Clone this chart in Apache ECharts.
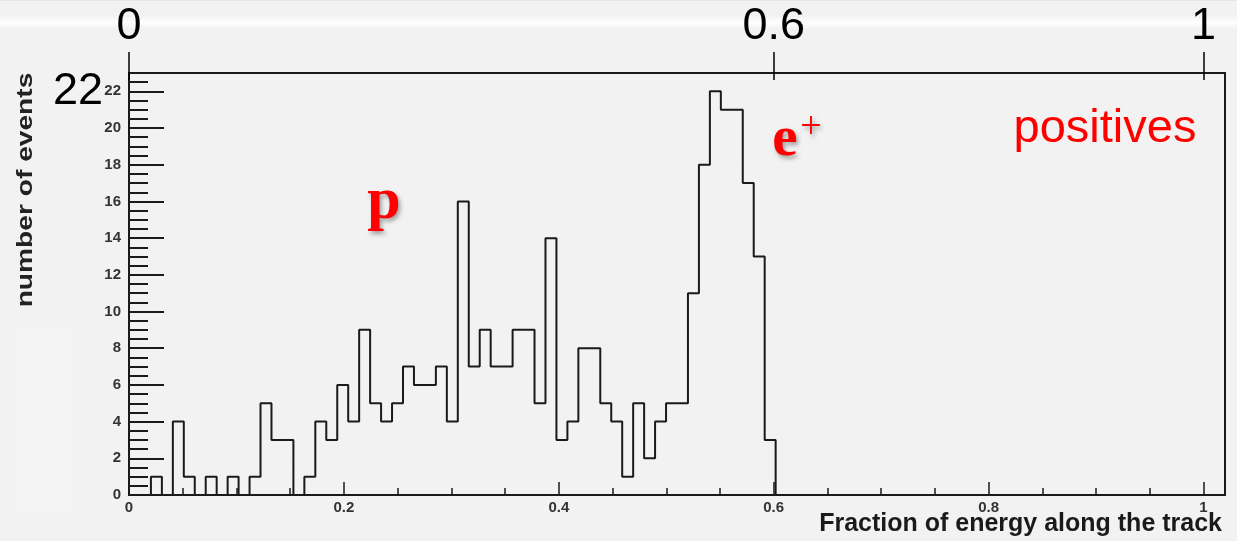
<!DOCTYPE html>
<html>
<head>
<meta charset="utf-8">
<title>Fraction of energy along the track — positives</title>
<script src="https://cdn.jsdelivr.net/npm/echarts@6/dist/echarts.min.js"></script>
<style>
  html, body { margin: 0; padding: 0; background: #f2f2f2; }
  #chart { width: 1237px; height: 541px; }
</style>
</head>
<body>
<div id="chart"></div>
<script>
// Histogram binning: 100 equal bins over [BIN_LO, BIN_HI]
const BIN_LO = 0;
const BIN_HI = 1.02;

// Entries per bin (number of events)
const counts = [
  0, 0, 1, 0, 4, 1, 0, 1, 0, 1,
  0, 1, 5, 3, 3, 0, 1, 4, 3, 6,
  4, 9, 5, 4, 5, 7, 6, 6, 7, 4,
  16, 7, 9, 7, 7, 9, 9, 5, 14, 3,
  4, 8, 8, 5, 4, 1, 5, 2, 4, 5,
  5, 11, 18, 22, 21, 21, 17, 13, 3, 0,
  0, 0, 0, 0, 0, 0, 0, 0, 0, 0,
  0, 0, 0, 0, 0, 0, 0, 0, 0, 0,
  0, 0, 0, 0, 0, 0, 0, 0, 0, 0,
  0, 0, 0, 0, 0, 0, 0, 0, 0, 0
];

// Axis ticks and labels
const xMajorTicks = [0, 0.2, 0.4, 0.6, 0.8, 1];
const xMinorTicks = [0.05, 0.1, 0.15, 0.25, 0.3, 0.35, 0.45, 0.5, 0.55, 0.65, 0.7, 0.75, 0.85, 0.9, 0.95];
const yMajorTicks = [0, 2, 4, 6, 8, 10, 12, 14, 16, 18, 20, 22];
const yMinorTicks = [0.5, 1, 1.5, 2.5, 3, 3.5, 4.5, 5, 5.5, 6.5, 7, 7.5, 8.5, 9, 9.5, 10.5, 11, 11.5,
                     12.5, 13, 13.5, 14.5, 15, 15.5, 16.5, 17, 17.5, 18.5, 19, 19.5, 20.5, 21, 21.5, 22.5, 23];
const Y_MAX = 23;

// Highlighted reference values drawn on the overlay scales
const overlayXTicks = [0, 0.6, 1];
const overlayYTicks = [22];

const xTitle = 'Fraction of energy along the track';
const yTitle = 'number of events';
const sampleLabel = 'positives';

// Step outline points at the bin edges
const binWidth = (BIN_HI - BIN_LO) / counts.length;
const outline = counts.map((c, i) => [BIN_LO + i * binWidth, c]);
outline.push([BIN_HI, counts[counts.length - 1]]);

const SANS = '"Liberation Sans", Arial, Helvetica, sans-serif';
const SERIF = '"Liberation Serif", "Times New Roman", serif';
const INK = '#1a1a1a';
const RED = '#ff0000';
const redShadow = {
  textShadowColor: 'rgba(0,0,0,0.35)',
  textShadowBlur: 4,
  textShadowOffsetX: 2,
  textShadowOffsetY: 3
};

const chart = echarts.init(document.getElementById('chart'), null, { renderer: 'canvas' });

chart.setOption({
  backgroundColor: '#f2f2f2',
  animation: false,
  grid: [
    { // histogram frame
      left: 129, right: 12, top: 73, bottom: 46,
      show: true,
      borderColor: INK,
      borderWidth: 2,
      backgroundColor: 'transparent'
    },
    { // strip holding the overlay scale, straddling the top of the frame
      left: 129, right: 12, top: 52, height: 28,
      show: false
    }
  ],
  xAxis: [
    { // main scale: labels and major ticks
      type: 'value', gridIndex: 0, min: BIN_LO, max: BIN_HI, position: 'bottom',
      splitLine: { show: false },
      axisLine: { show: true, lineStyle: { color: INK, width: 2 } },
      axisTick: { show: true, inside: true, length: 13, customValues: xMajorTicks,
                  lineStyle: { color: INK, width: 1.5 } },
      axisLabel: { show: true, customValues: xMajorTicks, margin: 5,
                   fontFamily: SANS, fontSize: 15, fontWeight: 'bold', color: '#333' }
    },
    { // minor ticks
      type: 'value', gridIndex: 0, min: BIN_LO, max: BIN_HI, position: 'bottom',
      splitLine: { show: false }, axisLine: { show: false }, axisLabel: { show: false },
      axisTick: { show: true, inside: true, length: 7, customValues: xMinorTicks,
                  lineStyle: { color: INK, width: 1.5 } }
    },
    { // overlay scale: ticks rise from the strip bottom, labels sit above them
      type: 'value', gridIndex: 1, min: BIN_LO, max: BIN_HI, position: 'bottom',
      splitLine: { show: false }, axisLine: { show: false },
      axisTick: { show: true, inside: true, length: 28, customValues: overlayXTicks,
                  lineStyle: { color: '#000', width: 1.5 } },
      axisLabel: { show: true, inside: true, customValues: overlayXTicks, margin: 31,
                   fontFamily: SANS, fontSize: 45, color: '#000' }
    }
  ],
  yAxis: [
    { // main scale
      type: 'value', gridIndex: 0, min: 0, max: Y_MAX, position: 'left',
      splitLine: { show: false },
      axisLine: { show: true, lineStyle: { color: INK, width: 2 } },
      axisTick: { show: true, inside: true, length: 35, customValues: yMajorTicks,
                  lineStyle: { color: INK, width: 2 } },
      axisLabel: { show: true, customValues: yMajorTicks, margin: 8,
                   fontFamily: SANS, fontSize: 15, fontWeight: 'bold', color: '#333' }
    },
    { // minor ticks
      type: 'value', gridIndex: 0, min: 0, max: Y_MAX, position: 'left',
      splitLine: { show: false }, axisLine: { show: false }, axisLabel: { show: false },
      axisTick: { show: true, inside: true, length: 19, customValues: yMinorTicks,
                  lineStyle: { color: INK, width: 2 } }
    },
    { // overlay value
      type: 'value', gridIndex: 0, min: 0, max: Y_MAX, position: 'left',
      splitLine: { show: false }, axisLine: { show: false }, axisTick: { show: false },
      axisLabel: { show: true, customValues: overlayYTicks, margin: 26, padding: [8, 0, 0, 0],
                   fontFamily: SANS, fontSize: 45, color: '#000' }
    },
    { // placeholder for the overlay strip
      type: 'value', gridIndex: 1, min: 0, max: 1, show: false
    }
  ],
  series: [
    {
      type: 'line',
      xAxisIndex: 0,
      yAxisIndex: 0,
      step: 'end',
      symbol: 'none',
      data: outline,
      clip: false,
      lineStyle: { color: INK, width: 2 },
      z: 5
    }
  ],
  graphic: [
    { // light band across the top
      type: 'rect', z: -10, silent: true,
      shape: { x: 0, y: 16, width: 1237, height: 13 },
      style: {
        fill: new echarts.graphic.LinearGradient(0, 0, 0, 1, [
          { offset: 0, color: 'rgba(255,255,255,0)' },
          { offset: 0.5, color: 'rgba(255,255,255,1)' },
          { offset: 1, color: 'rgba(255,255,255,0)' }
        ])
      }
    },
    { type: 'rect', z: -10, silent: true,
      shape: { x: 0, y: 0, width: 1237, height: 1 }, style: { fill: '#e6e6e6' } },
    { type: 'rect', z: -10, silent: true,
      shape: { x: 10, y: 322, width: 66, height: 192 }, style: { fill: '#f3f3f3' } },
    { // y-axis title
      type: 'text', silent: true,
      x: 26, y: 190, rotation: Math.PI / 2, scaleX: 1.28,
      style: { text: yTitle, x: 0, y: 0, align: 'center', verticalAlign: 'middle',
               font: 'bold 22px ' + SANS, fill: '#222' }
    },
    { // x-axis title
      type: 'text', silent: true,
      style: { text: xTitle, x: 1222, y: 524, align: 'right', verticalAlign: 'middle',
               font: 'bold 25px ' + SANS, fill: INK }
    },
    { // proton band label
      type: 'text', silent: true,
      style: Object.assign({ text: 'p', x: 384, y: 202, align: 'center', verticalAlign: 'middle',
               font: 'bold 60px ' + SERIF, fill: RED }, redShadow)
    },
    { // positron peak label
      type: 'text', silent: true,
      style: Object.assign({ text: 'e', x: 785, y: 140, align: 'center', verticalAlign: 'middle',
               font: 'bold 57px ' + SERIF, fill: RED }, redShadow)
    },
    {
      type: 'text', silent: true,
      style: Object.assign({ text: '+', x: 811, y: 128, align: 'center', verticalAlign: 'middle',
               font: '38px ' + SERIF, fill: RED }, redShadow)
    },
    {
      type: 'text', silent: true,
      style: { text: sampleLabel, x: 1105, y: 129, align: 'center', verticalAlign: 'middle',
               font: '47px ' + SANS, fill: RED }
    }
  ]
});
</script>
</body>
</html>
